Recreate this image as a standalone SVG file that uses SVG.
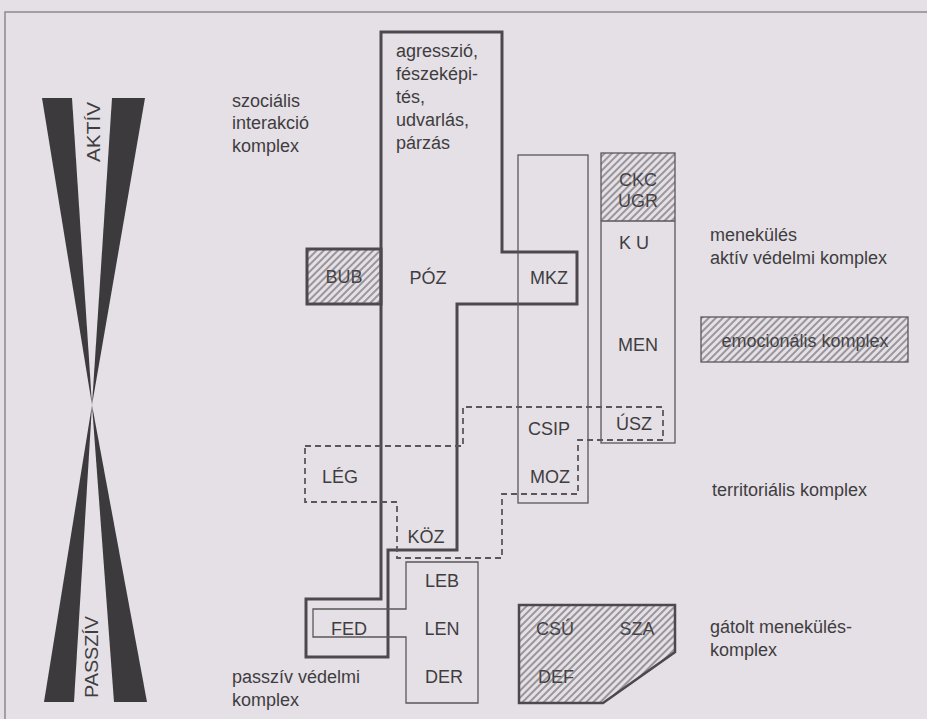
<svg xmlns="http://www.w3.org/2000/svg" width="927" height="719" viewBox="0 0 927 719">
<defs>
<pattern id="hatch" patternUnits="userSpaceOnUse" width="5" height="5" patternTransform="rotate(45)">
<line x1="1" y1="0" x2="1" y2="5" stroke="#5a575b" stroke-width="1.1"/>
</pattern>
<style>
.bg{fill:#e4e0e6}
.t{font-family:"Liberation Sans",Arial,sans-serif;font-size:18px;fill:#3f3d40}
.c{text-anchor:middle}
.thick{fill:none;stroke:#4c494d;stroke-width:3;stroke-linejoin:miter}
.thin{fill:none;stroke:#5a575b;stroke-width:1.3}
.dash{fill:none;stroke:#5a575b;stroke-width:1.8;stroke-dasharray:6 4}
.bar{fill:#3d3a3e}
.frame{fill:none;stroke:#8c8890;stroke-width:1.5}
.hf{fill:url(#hatch)}
</style>
</defs>
<rect class="bg" x="0" y="0" width="927" height="719"/>
<path class="frame" d="M5,719 V12 H927"/>

<g id="axis">
<polygon class="bar" points="42,98 72,98 92,405"/>
<polygon class="bar" points="112,98 145,98 92,405"/>
<polygon class="bar" points="92,405 44,702 74,702"/>
<polygon class="bar" points="92,405 114,702 147,702"/>
<text class="t c" transform="translate(100,132) rotate(-90)" font-size="17" textLength="60" lengthAdjust="spacingAndGlyphs">AKTÍV</text>
<text class="t c" transform="translate(98,657) rotate(-90)" font-size="17" textLength="82" lengthAdjust="spacingAndGlyphs">PASSZÍV</text>
</g>

<g id="social-complex">
<path class="thick" d="M381,32 H502 V252 H577 V304 H457 V550 H388 V657 H306 V599 H381 Z"/>
<text class="t" x="396" y="57">agresszió,</text>
<text class="t" x="396" y="80">fészeképi-</text>
<text class="t" x="396" y="103">tés,</text>
<text class="t" x="396" y="126">udvarlás,</text>
<text class="t" x="396" y="149">párzás</text>
<text class="t c" x="428" y="284">PÓZ</text>
</g>

<g id="BUB">
<text class="t c" x="344" y="283">BUB</text>
<rect class="hf" x="307" y="249" width="74" height="55"/>
<rect class="thick" x="307" y="249" width="74" height="55"/>
</g>

<g id="mkz-column">
<rect class="thin" x="518" y="155" width="70" height="348"/>
<text class="t c" x="549" y="284">MKZ</text>
<text class="t c" x="549" y="435">CSIP</text>
<text class="t c" x="550" y="483">MOZ</text>
</g>

<g id="flight-column">
<text class="t c" x="638" y="186" font-size="16">CKC</text>
<text class="t c" x="638" y="207" font-size="16">UGR</text>
<rect class="hf" x="601" y="153" width="74" height="68"/>
<rect class="thin" x="601" y="153" width="74" height="290"/>
<line class="thin" x1="601" y1="221" x2="675" y2="221"/>
<text class="t c" x="634" y="249">K U</text>
<text class="t c" x="638" y="351">MEN</text>
<text class="t c" x="634" y="430">ÚSZ</text>
</g>

<g id="territorial-complex">
<path class="dash" d="M305,446 H463 V407 H663 V440 H578 V494 H502 V558 H397 V502 H305 Z"/>
<text class="t c" x="340" y="483">LÉG</text>
<text class="t c" x="426" y="543">KÖZ</text>
</g>

<g id="passive-complex">
<path class="thin" d="M406,562 H478 V703 H406 V637 H313 V609 H406 Z"/>
<text class="t c" x="442" y="587">LEB</text>
<text class="t c" x="442" y="635">LEN</text>
<text class="t c" x="444" y="683">DER</text>
<text class="t c" x="349" y="635">FED</text>
</g>

<g id="inhibited-flight">
<text class="t c" x="555" y="635">CSÚ</text>
<text class="t c" x="637" y="635">SZA</text>
<text class="t c" x="556" y="683">DEF</text>
<polygon class="hf" points="519,605 675,605 675,652 603,703 519,703"/>
<polygon class="thick" points="519,605 675,605 675,652 603,703 519,703" style="stroke-width:2.5"/>
</g>

<g id="legend-emotional">
<text class="t c" x="805" y="347">emocionális komplex</text>
<rect class="hf" x="701" y="317" width="207" height="45"/>
<rect class="thin" x="701" y="317" width="207" height="45"/>
</g>

<g id="labels">
<text class="t" x="232" y="107">szociális</text>
<text class="t" x="232" y="129">interakció</text>
<text class="t" x="232" y="152">komplex</text>
<text class="t" x="710" y="241">menekülés</text>
<text class="t" x="710" y="264">aktív védelmi komplex</text>
<text class="t" x="712" y="496">territoriális komplex</text>
<text class="t" x="710" y="633">gátolt menekülés-</text>
<text class="t" x="710" y="656">komplex</text>
<text class="t" x="232" y="683">passzív védelmi</text>
<text class="t" x="232" y="706">komplex</text>
</g>

<g id="connectors"></g>
</svg>
